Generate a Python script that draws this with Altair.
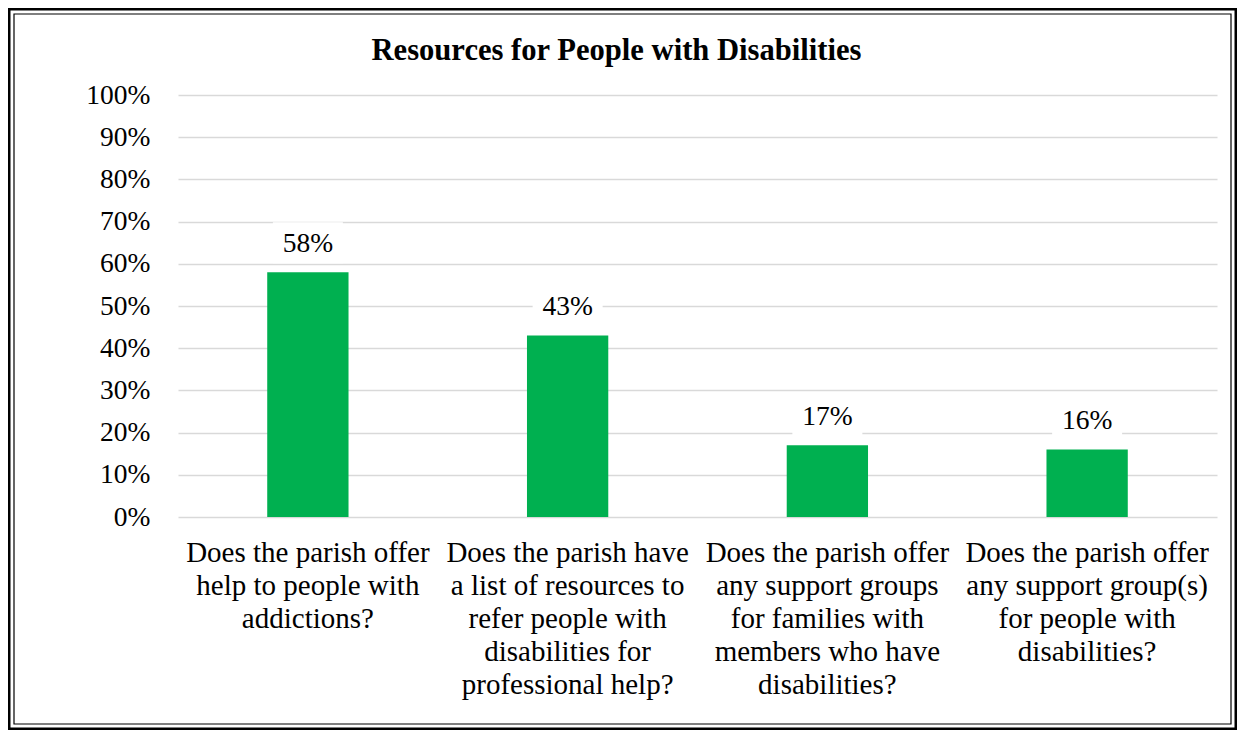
import altair as alt
import pandas as pd

# ---- data ----
categories = [
    "Does the parish offer\nhelp to people with\naddictions?",
    "Does the parish have\na list of resources to\nrefer people with\ndisabilities for\nprofessional help?",
    "Does the parish offer\nany support groups\nfor families with\nmembers who have\ndisabilities?",
    "Does the parish offer\nany support group(s)\nfor people with\ndisabilities?",
]
values = [0.58, 0.43, 0.17, 0.16]
y_ticks = [0, 0.1, 0.2, 0.3, 0.4, 0.5, 0.6, 0.7, 0.8, 0.9, 1.0]
chart_title = "Resources for People with Disabilities"

df = pd.DataFrame({"question": categories, "share": values})

FONT = "'Liberation Serif', 'Times New Roman', Times, 'DejaVu Serif', serif"
GREEN = "#00B050"
W, H = 1039, 422
PAD = {"left": 170, "top": 87, "right": 20, "bottom": 213}
TOTAL_W = PAD["left"] + W + PAD["right"]
TOTAL_H = PAD["top"] + H + PAD["bottom"]

x_enc = alt.X(
    "question:N",
    sort=categories,
    scale=alt.Scale(paddingInner=0.687, paddingOuter=0.3435),
    axis=alt.Axis(
        title=None,
        labelAngle=0,
        labelExpr="split(datum.label, '\\n')",
        labelFont=FONT,
        labelFontSize=29,
        labelLineHeight=33,
        labelColor="black",
        labelPadding=21.5,
        labelLimit=400,
        ticks=False,
        tickSize=0,
        domain=False,
        grid=False,
    ),
)
y_enc = alt.Y(
    "share:Q",
    scale=alt.Scale(domain=[0, 1]),
    axis=alt.Axis(
        title=None,
        values=y_ticks,
        format=".0%",
        labelFont=FONT,
        labelFontSize=27.5,
        labelColor="black",
        labelPadding=28,
        ticks=False,
        tickSize=0,
        domain=False,
        grid=True,
        gridColor="#D9D9D9",
        gridWidth=1.3,
    ),
)

base = alt.Chart(df)

bars = base.mark_bar(color=GREEN).encode(x=x_enc, y=y_enc)

label_boxes = base.mark_point(
    shape="M-1,-0.586L1,-0.586L1,0.586L-1,0.586Z",
    size=4900,
    filled=True,
    fill="white",
    opacity=1,
    strokeWidth=0,
).encode(
    x=alt.X("question:N", sort=categories),
    y=alt.Y("share:Q"),
    yOffset=alt.value(-29.5),
)

labels = base.mark_text(
    font=FONT, fontSize=27.5, color="black", baseline="middle", dy=-28.5
).encode(
    x=alt.X("question:N", sort=categories),
    y=alt.Y("share:Q"),
    text=alt.Text("share:Q", format=".0%"),
)

frame_data = alt.Data(values=[{"k": 1}])
outer = alt.Chart(frame_data).mark_rect(
    fillOpacity=0, stroke="black", strokeWidth=2.5
).encode(
    x=alt.value(-PAD["left"] + 1.25),
    x2=alt.value(TOTAL_W - PAD["left"] - 1.25),
    y=alt.value(-PAD["top"] + 1.25),
    y2=alt.value(TOTAL_H - PAD["top"] - 1.25),
)
inner = alt.Chart(frame_data).mark_rect(
    fillOpacity=0, stroke="black", strokeWidth=1.2
).encode(
    x=alt.value(-PAD["left"] + 6),
    x2=alt.value(TOTAL_W - PAD["left"] - 6),
    y=alt.value(-PAD["top"] + 6),
    y2=alt.value(TOTAL_H - PAD["top"] - 6),
)

chart = (
    alt.layer(bars, label_boxes, labels, outer, inner)
    .properties(
        width=W,
        height=H,
        padding=PAD,
        autosize=alt.AutoSizeParams(type="none"),
        background="white",
        title=alt.TitleParams(
            text=chart_title,
            font=FONT,
            fontSize=30.6,
            fontWeight="bold",
            color="black",
            anchor="middle",
            dx=-81,
            dy=71,
            offset=12,
        ),
    )
    .configure_view(stroke=None)
)

chart.save("out.html", embed_options={"renderer": "svg", "actions": False})
